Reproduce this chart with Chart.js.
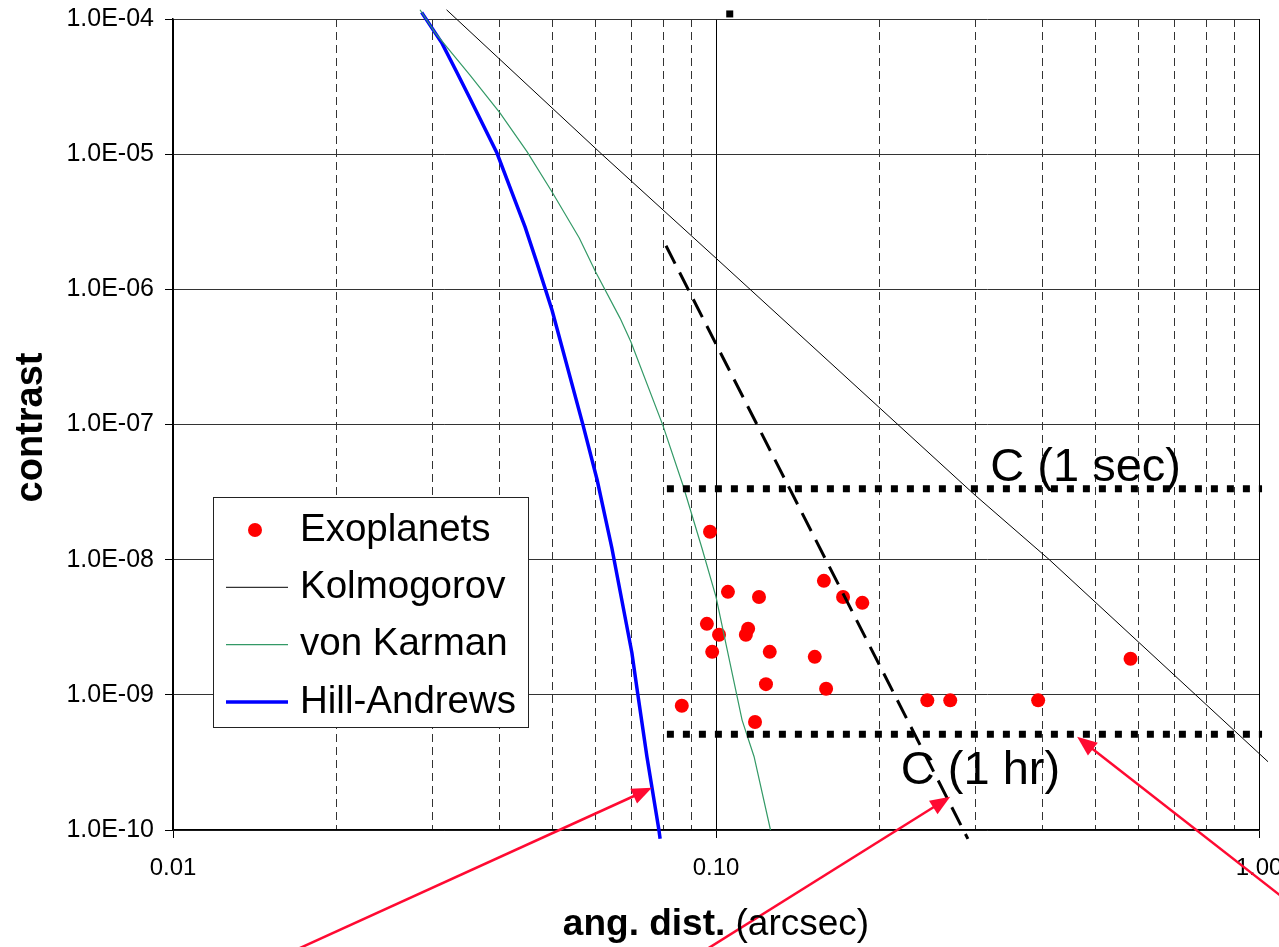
<!DOCTYPE html>
<html>
<head>
<meta charset="utf-8">
<title>Contrast vs angular distance</title>
<script src="https://cdn.jsdelivr.net/npm/chart.js@4.4.1/dist/chart.umd.min.js"></script>
<style>
  html, body { margin: 0; padding: 0; background: #fff; }
  canvas { display: block; }
</style>
</head>
<body>
<canvas id="chart" width="1279" height="947"></canvas>
<script>
const FONT = 'Arial, "Liberation Sans", sans-serif';

// axis ticks
const xTicks = [0.01, 0.02, 0.03, 0.04, 0.05, 0.06, 0.07, 0.08, 0.09,
                0.1, 0.2, 0.3, 0.4, 0.5, 0.6, 0.7, 0.8, 0.9, 1.0];
const xMajor = [0.01, 0.1, 1.0];
const yTicks = [1e-10, 1e-9, 1e-8, 1e-7, 1e-6, 1e-5, 1e-4];

// exoplanets
const exoX = [0.0975, 0.1052, 0.120, 0.158, 0.1714, 0.186, 0.0962, 0.1013, 0.1146, 0.1135, 0.0984,
              0.1256, 0.152, 0.1236, 0.1595, 0.0865, 0.118, 0.245, 0.270, 0.392, 0.58];
const exoY = [1.61e-8, 5.78e-9, 5.3e-9, 6.97e-9, 5.3e-9, 4.79e-9, 3.35e-9, 2.78e-9, 3.08e-9, 2.78e-9, 2.08e-9,
              2.08e-9, 1.91e-9, 1.2e-9, 1.11e-9, 8.3e-10, 6.3e-10, 9.1e-10, 9.1e-10, 9.1e-10, 1.85e-9];

// Kolmogorov
const kolX = [0.0319, 0.0616, 0.1, 0.3, 0.411, 1.039];
const kolY = [1.17e-4, 1.0e-5, 1.7e-6, 3.0e-8, 1.0e-8, 3.2e-10];

// von Karman
const vkX = [0.0285, 0.0304, 0.0352, 0.040, 0.0449, 0.0499, 0.056, 0.060, 0.0666, 0.0697,
             0.0798, 0.0869, 0.0942, 0.100, 0.1117, 0.1175, 0.126];
const vkY = [1.17e-4, 7.9e-5, 3.86e-5, 2.02e-5, 1.04e-5, 5.25e-6, 2.4e-6, 1.35e-6, 6.1e-7, 4.1e-7,
             9.9e-8, 3.57e-8, 1.22e-8, 5.3e-9, 6.5e-10, 3.5e-10, 1.0e-10];

// Hill-Andrews
const haX = [0.0287, 0.0313, 0.0333, 0.0352, 0.0395, 0.0421, 0.0445, 0.0468, 0.0499,
             0.0569, 0.0604, 0.0643, 0.070, 0.0718, 0.0746, 0.0785, 0.0789];
const haY = [1.12e-4, 6.6e-5, 4.05e-5, 2.6e-5, 1.02e-5, 5.2e-6, 2.9e-6, 1.57e-6, 7.0e-7,
             9.9e-8, 3.9e-8, 1.22e-8, 2.05e-9, 1.0e-9, 3.5e-10, 1.0e-10, 8.6e-11];

// dashed black trend line
const trendX = [0.0809, 0.291];
const trendY = [2.1e-6, 8.6e-11];

// contrast levels
const secX = [0.0812, 1.013];
const secY = [3.35e-8, 3.35e-8];
const hrX = [0.0812, 1.013];
const hrY = [5.1e-10, 5.1e-10];

// stray marker at the top edge
const strayX = [0.106];
const strayY = [1.09e-4];

// text annotations (left, baseline)
const noteText = ['C (1 sec)', 'C (1 hr)'];
const noteX = [0.32, 0.219];
const noteY = [3.83e-8, 2.2e-10];

// red arrows: tail -> tip
const arrowTailX = [0.0146, 0.0863, 1.19];
const arrowTailY = [1e-11, 1e-11, 2.52e-11];
const arrowTipX = [0.0762, 0.270, 0.4624];
const arrowTipY = [2.05e-10, 1.76e-10, 4.89e-10];

const pts = (xs, ys) => xs.map((x, i) => ({x: x, y: ys[i]}));

function fmtExp(v) {
    const [m, e] = v.toExponential(1).split('e');
    const n = parseInt(e, 10);
    return m + 'E' + (n < 0 ? '-' : '+') + String(Math.abs(n)).padStart(2, '0');
}

const legendLabels = ['Exoplanets', 'Kolmogorov', 'von Karman', 'Hill-Andrews'];

function drawLegend(chart) {
    const ctx = chart.ctx;
    const area = chart.chartArea;
    const left = area.left + 40, top = area.top + 478, w = 315, h = 230;
    ctx.save();
    ctx.fillStyle = '#fff';
    ctx.fillRect(left, top, w, h);
    ctx.strokeStyle = '#222';
    ctx.lineWidth = 1;
    ctx.strokeRect(left + 0.5, top + 0.5, w, h);
    ctx.font = '38.5px ' + FONT;
    ctx.textBaseline = 'middle';
    ctx.fillStyle = '#000';
    legendLabels.forEach((label, i) => {
        const ds = chart.data.datasets.find(d => d.label === label);
        const y = top + 33 + i * 57.3;
        if (ds.showLine) {
            ctx.strokeStyle = ds.borderColor;
            ctx.lineWidth = ds.borderWidth;
            ctx.beginPath();
            ctx.moveTo(left + 13, y);
            ctx.lineTo(left + 75, y);
            ctx.stroke();
        } else {
            ctx.fillStyle = ds.backgroundColor;
            ctx.beginPath();
            ctx.arc(left + 42, y, ds.pointRadius, 0, Math.PI * 2);
            ctx.fill();
        }
        ctx.fillStyle = '#000';
        ctx.fillText(label, left + 87, y);
    });
    ctx.restore();
}

const annotations = {
    id: 'annotations',
    afterDatasetsDraw(chart) {
        drawLegend(chart);
    },
    afterDraw(chart) {
        const ctx = chart.ctx;
        const sx = chart.scales.x, sy = chart.scales.y;
        const area = chart.chartArea;
        ctx.save();

        // stray square marker just above the plot
        ctx.fillStyle = '#000';
        strayX.forEach((v, i) => {
            const px = sx.getPixelForValue(v), py = sy.getPixelForValue(strayY[i]);
            ctx.fillRect(px - 3.5, py - 3.5, 7, 7);
        });

        // C labels
        ctx.font = '47px ' + FONT;
        ctx.textBaseline = 'alphabetic';
        noteText.forEach((t, i) => {
            ctx.fillText(t, sx.getPixelForValue(noteX[i]), sy.getPixelForValue(noteY[i]));
        });

        // arrows
        ctx.strokeStyle = '#ff0a32';
        ctx.fillStyle = '#ff0a32';
        ctx.lineWidth = 2.5;
        arrowTipX.forEach((_, i) => {
            const x0 = sx.getPixelForValue(arrowTailX[i]), y0 = sy.getPixelForValue(arrowTailY[i]);
            const x1 = sx.getPixelForValue(arrowTipX[i]), y1 = sy.getPixelForValue(arrowTipY[i]);
            const a = Math.atan2(y1 - y0, x1 - x0);
            const hl = 20, hw = 8;
            ctx.beginPath();
            ctx.moveTo(x0, y0);
            ctx.lineTo(x1 - Math.cos(a) * hl * 0.8, y1 - Math.sin(a) * hl * 0.8);
            ctx.stroke();
            ctx.beginPath();
            ctx.moveTo(x1, y1);
            ctx.lineTo(x1 - Math.cos(a) * hl - Math.sin(a) * hw, y1 - Math.sin(a) * hl + Math.cos(a) * hw);
            ctx.lineTo(x1 - Math.cos(a) * hl + Math.sin(a) * hw, y1 - Math.sin(a) * hl - Math.cos(a) * hw);
            ctx.closePath();
            ctx.fill();
        });

        // x axis title: bold + normal parts
        ctx.fillStyle = '#000';
        const boldPart = 'ang. dist. ', normPart = '(arcsec)';
        ctx.font = 'bold 37px ' + FONT;
        const w1 = ctx.measureText(boldPart).width;
        ctx.font = '37px ' + FONT;
        const w2 = ctx.measureText(normPart).width;
        const cx = (area.left + area.right) / 2;
        let tx = cx - (w1 + w2) / 2;
        ctx.textAlign = 'left';
        ctx.font = 'bold 37px ' + FONT;
        ctx.fillText(boldPart, tx, 935);
        ctx.font = '37px ' + FONT;
        ctx.fillText(normPart, tx + w1, 935);

        // y axis title
        ctx.translate(42, (area.top + area.bottom) / 2);
        ctx.rotate(-Math.PI / 2);
        ctx.font = 'bold 38px ' + FONT;
        ctx.textAlign = 'center';
        ctx.fillText('contrast', -3, 0);
        ctx.restore();
    }
};

const ctx = document.getElementById('chart').getContext('2d');
new Chart(ctx, {
    type: 'scatter',
    data: {
        datasets: [
            {
                label: 'trend',
                data: pts(trendX, trendY),
                showLine: true,
                borderColor: '#000',
                borderWidth: 3,
                borderDash: [20, 10],
                pointRadius: 0,
                clip: false
            },
            {
                label: 'C (1 sec)',
                data: pts(secX, secY),
                showLine: true,
                borderColor: '#000',
                borderWidth: 7,
                borderDash: [7, 9],
                borderCapStyle: 'butt',
                pointRadius: 0,
                clip: false
            },
            {
                label: 'C (1 hr)',
                data: pts(hrX, hrY),
                showLine: true,
                borderColor: '#000',
                borderWidth: 7,
                borderDash: [7, 9],
                borderCapStyle: 'butt',
                pointRadius: 0,
                clip: false
            },
            {
                label: 'Kolmogorov',
                data: pts(kolX, kolY),
                showLine: true,
                borderColor: '#000',
                borderWidth: 1,
                pointRadius: 0,
                clip: false
            },
            {
                label: 'von Karman',
                data: pts(vkX, vkY),
                showLine: true,
                borderColor: '#339966',
                borderWidth: 1.2,
                pointRadius: 0,
                clip: false
            },
            {
                label: 'Hill-Andrews',
                data: pts(haX, haY),
                showLine: true,
                borderColor: '#0000ff',
                borderWidth: 3.5,
                pointRadius: 0,
                clip: false
            },
            {
                label: 'Exoplanets',
                data: pts(exoX, exoY),
                showLine: false,
                backgroundColor: '#ff0000',
                borderColor: '#ff0000',
                borderWidth: 0,
                pointRadius: 7,
                clip: false
            }
        ]
    },
    options: {
        responsive: false,
        animation: false,
        layout: { padding: { left: 0, top: 19, right: 20, bottom: 0 } },
        plugins: {
            legend: { display: false },
            tooltip: { enabled: false }
        },
        scales: {
            x: {
                type: 'logarithmic',
                min: 0.01,
                max: 1.0,
                afterBuildTicks: (scale) => {
                    scale.ticks = xTicks.map(v => ({ value: v, major: xMajor.includes(v) }));
                },
                afterFit: (scale) => {
                    scale.height = 117;
                    scale.paddingRight = 0;
                    scale.paddingLeft = 0;
                },
                ticks: {
                    autoSkip: false,
                    maxRotation: 0,
                    padding: 16,
                    color: '#000',
                    font: { family: FONT, size: 24 },
                    callback: function (value, index, ticks) {
                        return ticks[index].major ? Number(value).toFixed(2) : '';
                    }
                },
                grid: {
                    color: (c) => (c.tick && c.tick.major) ? '#000' : '#333',
                    lineWidth: 1,
                    tickLength: 8,
                    tickColor: (c) => (c.tick && c.tick.major) ? '#000' : 'rgba(0,0,0,0)'
                },
                border: {
                    color: '#000',
                    width: 1.5,
                    dash: (c) => (c.tick && !c.tick.major) ? [8, 5] : []
                }
            },
            y: {
                type: 'logarithmic',
                min: 1e-10,
                max: 1e-4,
                afterBuildTicks: (scale) => {
                    scale.ticks = yTicks.map(v => ({ value: v, major: true }));
                },
                afterFit: (scale) => {
                    scale.width = 173;
                    scale.paddingTop = 0;
                    scale.paddingBottom = 0;
                },
                ticks: {
                    autoSkip: false,
                    padding: 11,
                    color: '#000',
                    font: { family: FONT, size: 25 },
                    callback: (value) => fmtExp(Number(value))
                },
                grid: {
                    color: '#333',
                    lineWidth: 1,
                    tickLength: 8,
                    tickColor: '#000'
                },
                border: {
                    color: '#000',
                    width: 1.5
                }
            }
        }
    },
    plugins: [annotations]
});
</script>
</body>
</html>
